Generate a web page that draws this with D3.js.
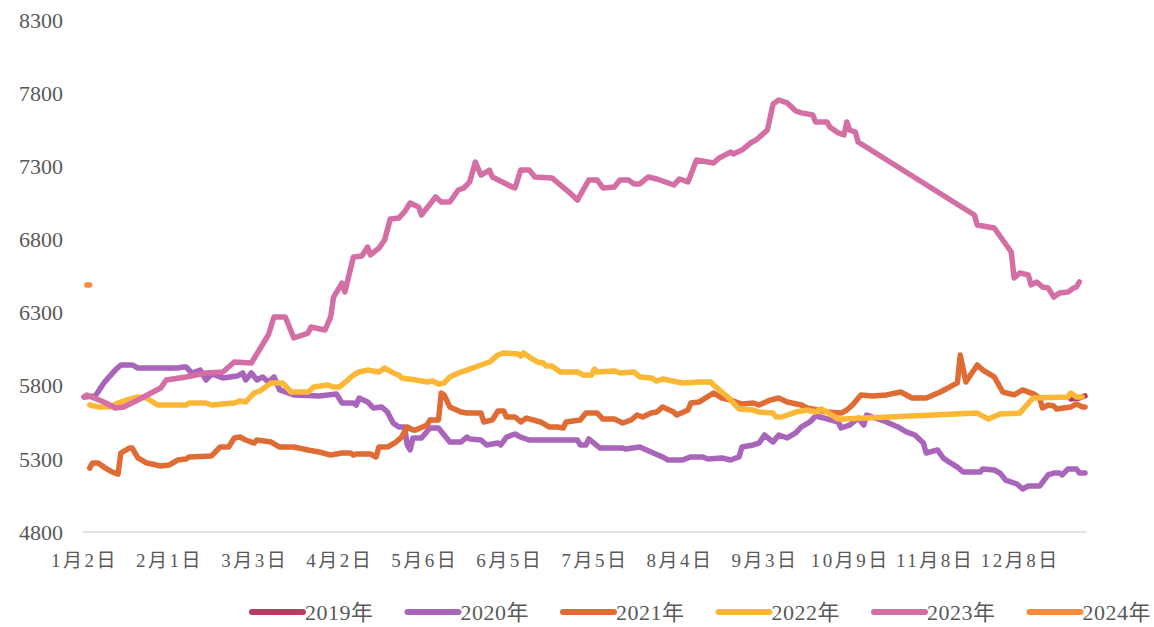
<!DOCTYPE html>
<html lang="zh">
<head>
<meta charset="utf-8">
<title>2019-2024年 价格走势</title>
<script src="https://d3js.org/d3.v7.min.js"></script>
<style>
  body { margin: 0; background: #fff; }
  text { font-family: "Times New Roman", "Liberation Serif", "Noto Sans CJK SC", serif; fill: #595959; }
</style>
</head>
<body>
<script>
// category axis: trading days, one label every 30 categories
var nCategories = 354;
var xTickLabels = ["1月2日", "2月1日", "3月3日", "4月2日", "5月6日", "6月5日", "7月5日", "8月4日", "9月3日", "10月9日", "11月8日", "12月8日"];
var yTicks = [4800, 5300, 5800, 6300, 6800, 7300, 7800, 8300];

var years = ["2019年", "2020年", "2021年", "2022年", "2023年", "2024年"];
var colors = ["#B83B62", "#A865BA", "#E06C35", "#FBB735", "#D46FA5", "#F98B3D"];

// [category index, value]
var s2019 = [[348, 5709], [351, 5716], [353, 5730]];

var s2020 = [[0, 5723], [4, 5730], [7, 5819], [11, 5907], [13, 5942], [17, 5942], [19, 5921], [33, 5921], [35, 5928],
  [36, 5928], [38, 5887], [41, 5907], [43, 5839], [45, 5880], [49, 5853], [54, 5866], [56, 5887], [57, 5839], [59, 5887],
  [61, 5839], [63, 5860], [65, 5825], [67, 5860], [69, 5771], [74, 5737], [83, 5730], [89, 5743], [91, 5682], [95, 5682],
  [96, 5668], [97, 5716], [100, 5689], [102, 5648], [105, 5655], [107, 5620], [109, 5545], [111, 5518], [113, 5518],
  [114, 5395], [115, 5361], [116, 5443], [119, 5443], [122, 5511], [125, 5511], [129, 5415], [133, 5415], [135, 5449],
  [136, 5436], [140, 5429], [142, 5395], [146, 5408], [147, 5395], [149, 5449], [152, 5470], [154, 5449], [157, 5429],
  [174, 5429], [175, 5395], [177, 5395], [178, 5436], [182, 5374], [190, 5374], [191, 5367], [196, 5381], [200, 5347],
  [204, 5313], [206, 5292], [211, 5292], [214, 5313], [218, 5313], [220, 5299], [225, 5306], [228, 5292], [231, 5313],
  [232, 5381], [236, 5395], [238, 5408], [240, 5463], [243, 5415], [245, 5463], [248, 5443], [251, 5477], [253, 5518],
  [256, 5552], [258, 5593], [261, 5579], [266, 5552], [267, 5511], [270, 5531], [273, 5579], [275, 5531], [276, 5600],
  [278, 5586], [283, 5552], [287, 5518], [290, 5484], [293, 5463], [296, 5408], [297, 5340], [301, 5361], [303, 5306],
  [305, 5279], [308, 5244], [310, 5210], [316, 5210], [317, 5231], [321, 5224], [323, 5203], [325, 5155], [329, 5128],
  [331, 5094], [333, 5114], [337, 5114], [340, 5190], [342, 5203], [344, 5203], [345, 5190], [347, 5231], [350, 5231],
  [351, 5203], [353, 5203]];

var s2021 = [[2, 5237], [3, 5272], [5, 5272], [7, 5244], [10, 5210], [12, 5196], [13, 5340], [16, 5374], [17, 5374],
  [19, 5306], [22, 5272], [24, 5265], [27, 5251], [30, 5258], [33, 5292], [36, 5299], [37, 5313], [45, 5320], [48, 5381],
  [51, 5381], [53, 5443], [55, 5449], [57, 5429], [60, 5408], [61, 5429], [66, 5415], [69, 5381], [74, 5381], [79, 5361],
  [83, 5347], [87, 5326], [91, 5340], [94, 5340], [95, 5326], [96, 5333], [101, 5333], [103, 5313], [104, 5381],
  [107, 5381], [110, 5415], [112, 5449], [114, 5518], [116, 5497], [117, 5497], [121, 5531], [122, 5566], [125, 5566],
  [126, 5750], [127, 5737], [129, 5655], [133, 5620], [135, 5613], [140, 5613], [141, 5552], [144, 5566], [146, 5627],
  [148, 5627], [149, 5586], [152, 5586], [154, 5552], [156, 5579], [161, 5552], [164, 5518], [167, 5518], [169, 5511],
  [170, 5552], [175, 5566], [177, 5613], [181, 5613], [183, 5572], [187, 5572], [190, 5545], [193, 5566], [195, 5600],
  [197, 5586], [200, 5613], [202, 5620], [204, 5655], [208, 5620], [209, 5600], [213, 5634], [214, 5682], [217, 5689],
  [222, 5750], [225, 5716], [228, 5702], [232, 5675], [236, 5682], [238, 5668], [242, 5702], [245, 5716], [248, 5689],
  [253, 5668], [255, 5648], [262, 5620], [267, 5613], [269, 5634], [271, 5668], [274, 5737], [278, 5730], [283, 5737],
  [288, 5757], [292, 5716], [297, 5716], [302, 5757], [308, 5819], [309, 6010], [311, 5825], [315, 5942], [317, 5907],
  [321, 5860], [324, 5757], [328, 5737], [331, 5771], [335, 5743], [337, 5716], [338, 5648], [340, 5668], [342, 5661],
  [343, 5641], [348, 5655], [350, 5675], [352, 5655], [353, 5655]];

var s2022 = [[2, 5668], [5, 5655], [9, 5655], [12, 5682], [15, 5702], [19, 5723], [22, 5716], [26, 5668], [36, 5668],
  [37, 5682], [43, 5682], [45, 5668], [53, 5682], [55, 5696], [57, 5689], [60, 5750], [62, 5764], [66, 5819], [70, 5819],
  [73, 5757], [79, 5757], [81, 5791], [86, 5805], [88, 5791], [90, 5791], [93, 5839], [95, 5873], [97, 5894], [100, 5907],
  [104, 5894], [106, 5921], [109, 5887], [111, 5873], [112, 5853], [117, 5839], [121, 5825], [123, 5832], [125, 5812],
  [127, 5819], [129, 5860], [132, 5887], [135, 5907], [138, 5928], [143, 5962], [146, 6010], [148, 6024], [153, 6017],
  [154, 6003], [155, 6024], [157, 5996], [160, 5962], [162, 5955], [163, 5935], [165, 5935], [168, 5894], [174, 5894],
  [176, 5873], [179, 5873], [180, 5914], [181, 5894], [187, 5901], [189, 5887], [194, 5894], [196, 5860], [200, 5853],
  [202, 5832], [204, 5846], [211, 5819], [217, 5825], [221, 5825], [222, 5805], [227, 5723], [231, 5641], [236, 5634],
  [238, 5620], [243, 5613], [244, 5586], [246, 5586], [251, 5620], [255, 5634], [258, 5620], [260, 5641], [262, 5620],
  [266, 5572], [268, 5572], [315, 5613], [319, 5572], [323, 5607], [330, 5613], [334, 5702], [335, 5716], [347, 5723],
  [348, 5750], [350, 5723], [352, 5723]];

var s2023 = [[0, 5723], [1, 5737], [7, 5689], [11, 5648], [14, 5655], [19, 5702], [27, 5784], [29, 5839], [36, 5860],
  [43, 5887], [49, 5894], [53, 5962], [59, 5955], [65, 6147], [67, 6270], [71, 6270], [74, 6126], [79, 6160], [80, 6201],
  [85, 6181], [87, 6270], [88, 6406], [91, 6502], [92, 6441], [95, 6680], [98, 6687], [100, 6748], [101, 6694],
  [104, 6741], [106, 6796], [108, 6940], [111, 6946], [113, 6988], [115, 7049], [118, 7022], [119, 6967], [124, 7090],
  [126, 7056], [129, 7056], [132, 7138], [134, 7152], [136, 7193], [138, 7329], [140, 7240], [143, 7274], [144, 7227],
  [151, 7158], [152, 7152], [154, 7274], [157, 7274], [159, 7227], [165, 7220], [171, 7124], [174, 7069], [178, 7206],
  [181, 7206], [183, 7152], [187, 7158], [189, 7206], [192, 7206], [194, 7179], [196, 7179], [199, 7227], [202, 7213],
  [208, 7172], [210, 7213], [213, 7193], [216, 7343], [222, 7322], [224, 7357], [228, 7397], [229, 7384], [232, 7411],
  [235, 7459], [237, 7480], [241, 7548], [243, 7726], [245, 7753], [248, 7733], [251, 7678], [253, 7665], [257, 7651],
  [258, 7603], [262, 7603], [263, 7569], [266, 7528], [268, 7514], [269, 7603], [270, 7548], [272, 7534], [273, 7466],
  [314, 6967], [315, 6899], [321, 6878], [327, 6714], [328, 6536], [330, 6571], [333, 6557], [334, 6489], [336, 6509],
  [338, 6475], [340, 6468], [342, 6406], [344, 6434], [347, 6441], [349, 6468], [350, 6475], [351, 6509]];

var s2024 = [[1, 6489], [2, 6489]];

var seriesData = [s2019, s2020, s2021, s2022, s2023, s2024];

var w = 1154, h = 627;

var x = d3.scaleLinear()
  .domain([0, nCategories - 1])
  .range([84, 1085]);

var y = d3.scaleLinear()
  .domain([4800, 8300])
  .range([532, 20]);

var svg = d3.select("body")
  .append("svg")
  .attr("width", w)
  .attr("height", h);

// y axis labels
svg.append("g")
  .selectAll("text")
  .data(yTicks)
  .enter()
  .append("text")
  .attr("x", 63)
  .attr("y", function(d) { return y(d); })
  .attr("dy", "0.35em")
  .attr("text-anchor", "end")
  .style("font-size", "22px")
  .text(function(d) { return d; });

// category axis
var xAxis = d3.axisBottom(x)
  .tickValues(xTickLabels.map(function(d, i) { return i * 30; }))
  .tickSize(0)
  .tickPadding(22)
  .tickFormat(function(d, i) { return xTickLabels[i]; });

var gx = svg.append("g")
  .attr("transform", "translate(0," + y(4800) + ")")
  .call(xAxis);

gx.select(".domain")
  .attr("d", "M" + (x(0) - 1.4) + ",0H" + (x(nCategories - 1) + 1.4))
  .attr("stroke", "#d9d9d9")
  .attr("stroke-width", 1.5);

gx.selectAll(".tick text")
  .attr("fill", "#595959")
  .style("font-size", "19px")
  .style("letter-spacing", "2.5px")
  .style("font-family", "\"Times New Roman\", \"Liberation Serif\", \"Noto Sans CJK SC\", serif");

// lines
var line = d3.line()
  .x(function(d) { return x(d[0]); })
  .y(function(d) { return y(d[1]); });

svg.append("g")
  .selectAll("path")
  .data(seriesData)
  .enter()
  .append("path")
  .attr("d", line)
  .attr("fill", "none")
  .attr("stroke", function(d, i) { return colors[i]; })
  .attr("stroke-width", 5.5)
  .attr("stroke-linejoin", "round")
  .attr("stroke-linecap", "round");

// legend
var legend = svg.append("g")
  .selectAll("g")
  .data(years)
  .enter()
  .append("g")
  .attr("transform", function(d, i) { return "translate(" + (250 + i * 155.5) + ",612)"; });

legend.append("line")
  .attr("x1", 2)
  .attr("x2", 53)
  .attr("stroke", function(d, i) { return colors[i]; })
  .attr("stroke-width", 6)
  .attr("stroke-linecap", "round");

legend.append("text")
  .attr("x", 55)
  .attr("dy", "0.35em")
  .style("font-size", "22px")
  .style("letter-spacing", "0.5px")
  .text(function(d) { return d; });
</script>
</body>
</html>
